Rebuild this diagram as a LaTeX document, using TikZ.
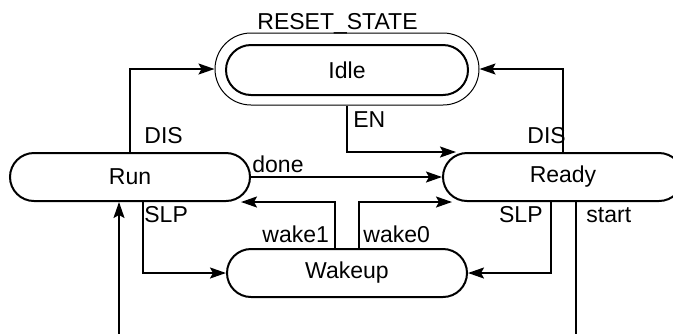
\documentclass[tikz,border=0pt]{standalone}
\usepackage{fontspec}
\setmainfont{Liberation Sans}
\usetikzlibrary{arrows.meta,calc}
\begin{document}
\begin{tikzpicture}[x=0.5pt,y=-0.5pt,
  font=\fontsize{11.5}{13.5}\selectfont,
  state/.style={draw,line width=1pt,rounded corners=12pt,minimum width=120pt,minimum height=24pt,inner sep=0pt},
  lbl/.style={inner sep=0pt},
  conn/.style={line width=1pt,-{Stealth[length=8pt,width=5.5pt,inset=1.5pt]}},
  plain/.style={line width=1pt}]
\useasboundingbox (0,0) rectangle (673,333);
\clip (0,0) rectangle (673,333);
% states
\node[draw,line width=0.5pt,rounded corners=18pt,minimum width=132pt,minimum height=36pt] (IdleO) at (347,69) {};
\node[state,minimum width=121pt,minimum height=25pt,rounded corners=12.5pt] (Idle) at (347,70) {Idle};
\node[state] (Run) at (130,177) {Run};
\node[state] (Ready) at (563,177) {Ready};
\node[state] (Wakeup) at (347,273) {Wakeup};
% coordinates
\coordinate (ENend) at ($(Ready.north west)+(14,0)$);
\coordinate (w1s) at ($(Wakeup.north)+(-12,0)$);
\coordinate (w1e) at ($(Run.south east)+(-10,0)$);
\coordinate (w0s) at ($(Wakeup.north)+(12,0)$);
\coordinate (w0e) at ($(Ready.south west)+(10,0)$);
\coordinate (slpL) at ($(Run.south)+(13,0)$);
\coordinate (slpR) at ($(Ready.south)+(-12,0)$);
\coordinate (inTop) at ($(Run.south)+(-11,0)$);
\coordinate (inBot) at (119,340);
\coordinate (stTop) at ($(Ready.south)+(13,0)$);
\coordinate (stBot) at (576,340);
% connectors
\draw[conn] (Run.north) |- (IdleO.west);
\draw[conn] (Ready.north) |- (IdleO.east);
\draw[conn] (IdleO.south) |- (ENend);
\draw[conn] (Run.east) -- (Ready.west);
\draw[conn] (w1s) |- (w1e);
\draw[conn] (w0s) |- (w0e);
\draw[conn] (slpL) |- (Wakeup.west);
\draw[conn] (slpR) |- (Wakeup.east);
\draw[conn] (inBot) -- (inTop);
\draw[plain] (stTop) -- (stBot);
% labels
\node[lbl,anchor=base west] (lreset) at (257,29) {RESET\_STATE};
\node[lbl,anchor=base west] (ldisL) at (144,143) {DIS};
\node[lbl,anchor=base west] (ldisR) at (527,143) {DIS};
\node[lbl,anchor=base west] (len) at (353,127) {EN};
\node[lbl,anchor=base west] (ldone) at (252,172) {done};
\node[lbl,anchor=base west] (lslpL) at (144,222) {SLP};
\node[lbl,anchor=base west] (lw1) at (262,242) {wake1};
\node[lbl,anchor=base west] (lw0) at (363,242) {wake0};
\node[lbl,anchor=base east] (lslpR) at (543,222) {SLP};
\node[lbl,anchor=base west] (lstart) at (586,222) {start};
\end{tikzpicture}
\end{document}
